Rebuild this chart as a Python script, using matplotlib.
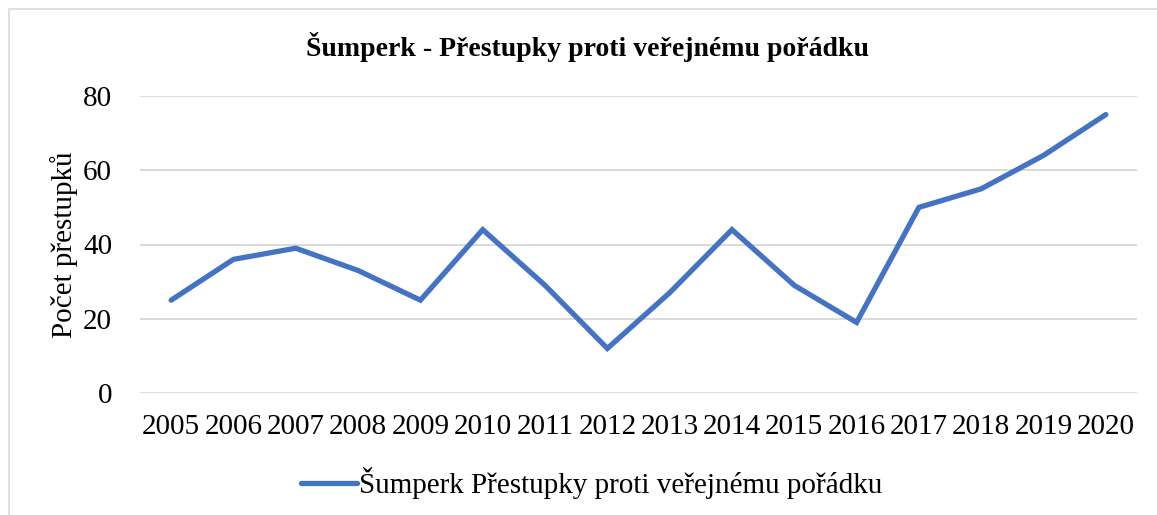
import matplotlib
matplotlib.use("Agg")
import matplotlib.pyplot as plt
from matplotlib.patches import Rectangle

plt.rcParams["font.family"] = ["Liberation Serif", "DejaVu Serif"]

YEARS = ["2005", "2006", "2007", "2008", "2009", "2010", "2011", "2012",
         "2013", "2014", "2015", "2016", "2017", "2018", "2019", "2020"]
OFFENCES = [25, 36, 39, 33, 25, 44, 29, 12, 27, 44, 29, 19, 50, 55, 64, 75]
Y_TICKS = [0, 20, 40, 60, 80]

TITLE = "Šumperk - Přestupky proti veřejnému pořádku"
SERIES_LABEL = "Šumperk Přestupky proti veřejnému pořádku"
Y_LABEL = "Počet přestupků"

LINE_COLOR = "#4472C4"
GRID_COLOR = "#d9d9d9"

W, H = 1157, 515
fig = plt.figure(figsize=(W / 100, H / 100), dpi=100)

# plot area in pixel coords: x 140..1137, y 96..393
ax = fig.add_axes([140 / W, 1 - 393 / H, (1137 - 140) / W, (393 - 96) / H])

x = list(range(len(YEARS)))
ax.plot(x, OFFENCES, color=LINE_COLOR, linewidth=3.8, solid_capstyle="round",
        solid_joinstyle="miter", label=SERIES_LABEL, zorder=3)

ax.set_xlim(-0.5, len(YEARS) - 0.5)
ax.set_ylim(0, 80)
ax.set_yticks(Y_TICKS)
ax.set_xticks(x)
ax.set_xticklabels(YEARS)
ax.tick_params(axis="both", length=0, labelsize=21, colors="black")
ax.tick_params(axis="y", pad=20)
ax.tick_params(axis="x", pad=15)
ax.grid(axis="y", color=GRID_COLOR, linewidth=1.4)
ax.set_axisbelow(True)
for s in ax.spines.values():
    s.set_visible(False)
ax.set_ylabel(Y_LABEL, fontsize=21, labelpad=4)

fig.text(587 / W, 1 - 47 / H, TITLE, ha="center", va="center",
         fontsize=20, fontweight="bold")

fig.legend(loc="center", bbox_to_anchor=(592 / W, 1 - 483 / H), frameon=False,
           fontsize=21, handlelength=1.9, handletextpad=0.1)

fig.patches.append(Rectangle((9 / W, -0.1), 1.2, 1 - 9 / H + 0.1,
                             transform=fig.transFigure, fill=False,
                             edgecolor="#d9d9d9", linewidth=1.2))

fig.savefig("out.png", dpi=100)
